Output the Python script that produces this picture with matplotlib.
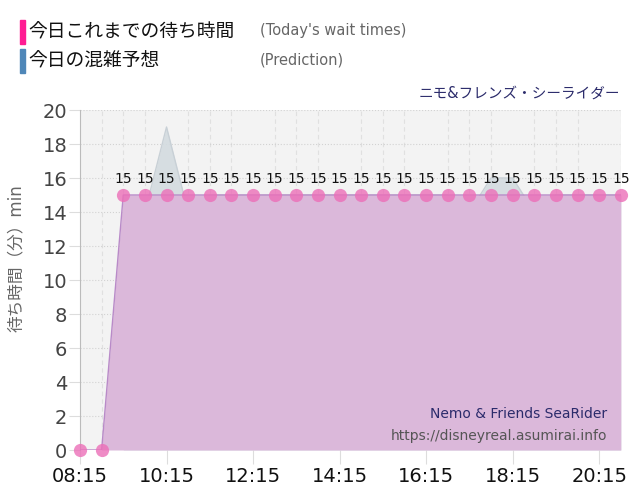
import matplotlib
matplotlib.use("Agg")
import matplotlib.pyplot as plt
import numpy as np

plt.rcParams['font.family'] = ['DejaVu Sans', 'Noto Sans CJK JP']

# 実績 (30分毎)
times = ["08:15", "08:45", "09:15", "09:45", "10:15", "10:45", "11:15", "11:45",
         "12:15", "12:45", "13:15", "13:45", "14:15", "14:45", "15:15", "15:45",
         "16:15", "16:45", "17:15", "17:45", "18:15", "18:45", "19:15", "19:45",
         "20:15", "20:45"]
wait_times = [0, 0, 15, 15, 15, 15, 15, 15, 15, 15, 15, 15, 15, 15, 15, 15,
              15, 15, 15, 15, 15, 15, 15, 15, 15, 15]

# 予想
pred_times = times[2:]
pred_values = [12, 14, 19, 14, 15, 15, 15, 15, 15, 15, 15, 15, 15, 15,
               15, 15, 14, 16, 16, 14, 15, 15, 15, 15]

tick_labels = ["08:15", "10:15", "12:15", "14:15", "16:15", "18:15", "20:15"]


def to_h(s):
    h, m = s.split(":")
    return int(h) + int(m) / 60


x = np.array([to_h(t) for t in times])
y = np.array(wait_times, dtype=float)
xp = np.array([to_h(t) for t in pred_times])
yp = np.array(pred_values, dtype=float)

fig = plt.figure(figsize=(6.4, 5.0), dpi=100)
ax = fig.add_axes([0.125, 0.1, 0.845, 0.68])
ax.set_facecolor('#f3f3f3')

# 予想 (灰色)
ax.fill_between(xp, 0, yp, color='#d3dbe0', alpha=0.9, lw=0, zorder=2)
ax.plot(xp, yp, color='#c8d0d6', lw=1, zorder=2)

# 実績 (ピンク)
ax.fill_between(x, 0, y, color='#dbb8da', lw=0, zorder=3)
ax.plot(x, y, color='#b98ac8', lw=1, zorder=4)
ax.plot(x, y, 'o', ms=9.5, color='#ec6fb8', alpha=0.8, mec='none',
        zorder=5, clip_on=False)

for xi, yi in zip(x, y):
    if yi > 0:
        ax.text(xi, yi + 0.55, "%d" % yi, ha='center', va='bottom',
                fontsize=10, color='#111111', zorder=6)

ax.set_xlim(x[0], x[-1])
ax.set_ylim(0, 20)
ax.set_yticks(range(0, 21, 2))
ax.set_xticks([to_h(t) for t in tick_labels])
ax.set_xticklabels(tick_labels)
ax.set_xticks(x, minor=True)

ax.grid(True, axis='y', which='major', color='#d2d2d2', ls=':', lw=0.8, zorder=1)
ax.grid(True, axis='x', which='minor', color='#e0e0e0', ls=(0, (4, 3)), lw=0.8, zorder=1)
ax.set_axisbelow(True)

for s in ['top', 'right', 'bottom']:
    ax.spines[s].set_visible(False)
ax.spines['left'].set_color('#bbbbbb')

ax.tick_params(axis='y', labelsize=14, colors='#444444', length=8, color='#dddddd', pad=1)
ax.tick_params(axis='x', which='major', labelsize=14, labelcolor='#111111', length=10,
               color='#dddddd', pad=2)
ax.tick_params(axis='x', which='minor', length=0)

fig.text(16 / 640, 1 - 258 / 500, "待ち時間（分）min", fontsize=12, color='#666666',
         rotation=90, ha='center', va='center')

ax.text(0.975, 0.105, "Nemo & Friends SeaRider", transform=ax.transAxes,
        ha='right', va='center', fontsize=10, color='#2b2b6b', zorder=7)
ax.text(0.975, 0.04, "https://disneyreal.asumirai.info", transform=ax.transAxes,
        ha='right', va='center', fontsize=10, color='#555555', zorder=7)

# 凡例 (上部)
fig.patches.append(plt.Rectangle((20 / 640, 1 - 44 / 500), 5 / 640, 24 / 500,
                                 transform=fig.transFigure, color='#ff1c93'))
fig.patches.append(plt.Rectangle((20 / 640, 1 - 73 / 500), 5 / 640, 24 / 500,
                                 transform=fig.transFigure, color='#4f87b8'))
fig.text(28 / 640, 1 - 32 / 500, "今日これまでの待ち時間", fontsize=13.5,
         color='#111111', va='center')
fig.text(28 / 640, 1 - 61 / 500, "今日の混雑予想", fontsize=13.5,
         color='#111111', va='center')
fig.text(260 / 640, 1 - 31 / 500, "(Today's wait times)", fontsize=10.5,
         color='#666666', va='center')
fig.text(260 / 640, 1 - 60 / 500, "(Prediction)", fontsize=10.5,
         color='#666666', va='center')
fig.text(620 / 640, 1 - 93 / 500, "ニモ&フレンズ・シーライダー", fontsize=10.5,
         color='#2b2b6b', va='center', ha='right')

fig.savefig("out.png", dpi=100)
